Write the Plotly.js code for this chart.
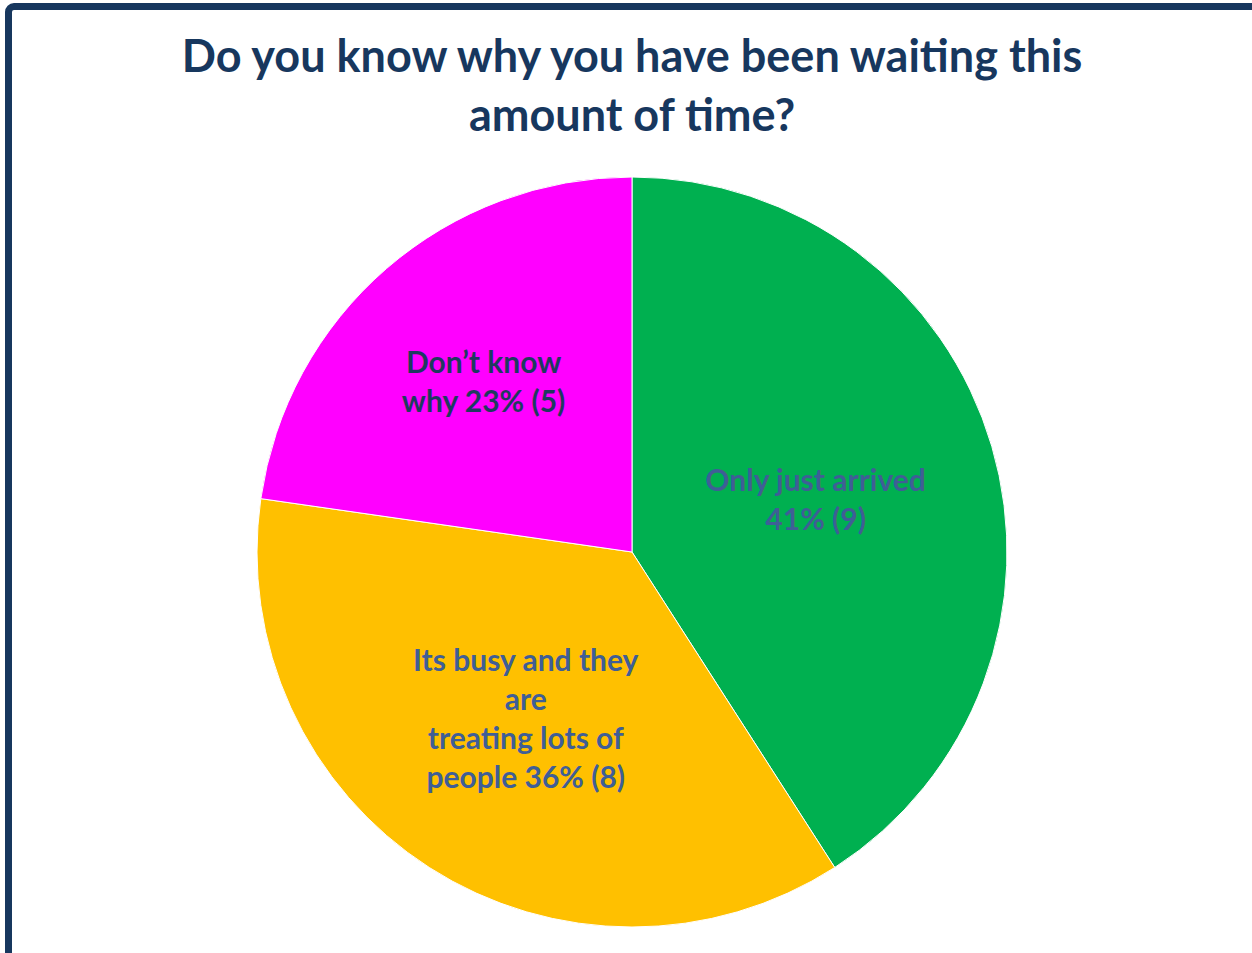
<!DOCTYPE html>
<html>
<head>
<meta charset="utf-8">
<script src="https://cdn.plot.ly/plotly-3.0.1.min.js"></script>
<style>
  html, body { margin: 0; padding: 0; width: 1252px; height: 953px; overflow: hidden; background: #ffffff; }
  #chart { position: absolute; left: 0; top: 0; width: 1252px; height: 953px; }
  #frame { position: absolute; left: 5px; top: 3px; width: 1300px; height: 1000px; border: 7px solid #17375E; border-radius: 9px; pointer-events: none; box-sizing: border-box; }
</style>
</head>
<body>
<div id="chart"></div>
<div id="frame"></div>
<script>
// Data
const categories = ["Only just arrived", "Its busy and they are treating lots of people", "Don’t know why"];
const displayLabels = ["Only just arrived<br>", "Its busy and they<br>are<br>treating lots of<br>people ", "Don’t know<br>why "];
const counts = [9, 8, 5];
const sliceColors = ["#00B050", "#FFC000", "#FF00FF"];
const labelColors = ["#3F5E96", "#3F5E96", "#1F3A5F"];
const chartTitle = "Do you know why you have been waiting this<br>amount of time?";

const trace = {
  type: "pie",
  labels: categories,
  values: counts,
  text: displayLabels,
  texttemplate: "%{text}%{percent:.0%} (%{value})",
  textinfo: "text",
  textposition: "inside",
  insidetextorientation: "horizontal",
  sort: false,
  direction: "clockwise",
  rotation: 0,
  marker: { colors: sliceColors, line: { color: "#ffffff", width: 1 } },
  insidetextfont: { family: "Lato, 'Open Sans', sans-serif", size: 30, color: labelColors, weight: 700 },
  hoverinfo: "label+value+percent",
  domain: { x: [(632 - 375) / 1252, (632 + 375) / 1252], y: [0, 1] },
  showlegend: false
};

const layout = {
  width: 1252,
  height: 953,
  margin: { l: 0, r: 0, t: 177, b: 26 },
  paper_bgcolor: "#ffffff",
  plot_bgcolor: "#ffffff",
  title: {
    text: chartTitle,
    x: 632 / 1252,
    xanchor: "center",
    y: 1 - 72 / 953,
    yanchor: "top",
    font: { family: "Lato, 'Open Sans', sans-serif", size: 45, color: "#17375E", weight: 700 }
  },
  showlegend: false
};

Plotly.newPlot("chart", [trace], layout, { displayModeBar: false, staticPlot: true });
</script>
</body>
</html>
